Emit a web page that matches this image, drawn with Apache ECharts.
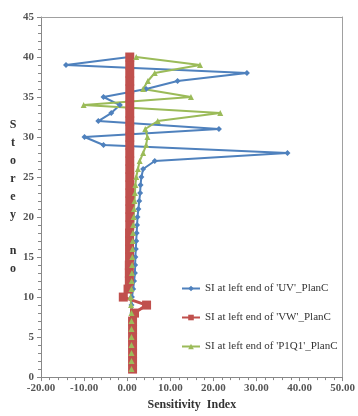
<!DOCTYPE html>
<html>
<head>
<meta charset="utf-8">
<script src="https://cdn.jsdelivr.net/npm/echarts@6/dist/echarts.min.js"></script>
<style>
html,body{margin:0;padding:0;background:#fff;}
#c{width:358px;height:416px;}
</style>
</head>
<body>
<div id="c"></div>
<script>
// Storey numbers 1..40
const storeys = [1,2,3,4,5,6,7,8,9,10,11,12,13,14,15,16,17,18,19,20,21,22,23,24,25,26,27,28,29,30,31,32,33,34,35,36,37,38,39,40];
// SI at left end of 'UV'_PlanC
const siUV = [1.1,1.1,1.1,1.15,1.15,1.2,1.2,1.2,1.0,1.1,1.4,1.6,1.8,1.85,1.9,2.0,2.1,2.2,2.3,2.4,2.6,2.8,3.0,3.1,3.3,3.7,6.4,37.2,-5.5,-9.9,21.3,-6.7,-3.7,-1.7,-5.5,4.4,11.7,27.8,-14.2,0.5];
// SI at left end of 'VW'_PlanC
const siVW = [1.25,1.25,1.25,1.25,1.25,1.25,1.25,1.7,4.5,-0.9,0.2,0.5,0.5,0.5,0.55,0.55,0.55,0.55,0.6,0.6,0.6,0.6,0.6,0.6,0.6,0.6,0.6,0.6,0.6,0.6,0.6,0.6,0.6,0.6,0.6,0.6,0.6,0.6,0.6,0.6];
// SI at left end of 'P1Q1'_PlanC
const siP1Q1 = [1.0,1.0,1.0,1.0,1.0,1.0,1.0,1.0,0.9,0.8,1.0,1.05,1.1,1.15,1.2,1.25,1.3,1.35,1.4,1.5,1.6,1.7,1.8,1.9,2.1,2.5,2.9,3.7,4.4,4.7,4.2,7.1,21.6,-10.1,14.8,3.7,4.8,6.4,16.9,2.1];
const seriesNames = ["SI at left end of 'UV'_PlanC","SI at left end of 'VW'_PlanC","SI at left end of 'P1Q1'_PlanC"];
const xTicks = [-20,-10,0,10,20,30,40,50];
const yTicks = [0,5,10,15,20,25,30,35,40,45];

const pairs = vals => vals.map((v,i)=>[v, storeys[i]]);
const serif = "'Liberation Serif','DejaVu Serif',serif";
const xMin = xTicks[0], xMax = xTicks[xTicks.length-1];
const yMin = yTicks[0], yMax = yTicks[yTicks.length-1];
const frameAxis = {show:true, axisLine:{show:true,onZero:false,lineStyle:{color:'#a0a0a0',width:1}},
  axisTick:{show:false}, axisLabel:{show:false}, splitLine:{show:false}};
const chart = echarts.init(document.getElementById('c'));
chart.setOption({
  animation:false,
  backgroundColor:'#fff',
  grid:{left:41,right:11,top:17,bottom:34},
  legend:{
    orient:'vertical', left:176, top:278, itemGap:18, itemWidth:18, itemHeight:7,
    textStyle:{fontFamily:serif,fontSize:11,color:'#333'},
    data:seriesNames
  },
  xAxis:[{
    type:'value', min:xMin, max:xMax, interval:10,
    name:'Sensitivity  Index', nameLocation:'middle', nameGap:19,
    nameTextStyle:{fontFamily:serif,fontSize:12,fontWeight:'bold',color:'#333'},
    axisLine:{show:true,onZero:false,lineStyle:{color:'#888',width:1}},
    axisTick:{show:true,length:4,lineStyle:{color:'#888'}},
    minorTick:{show:true,splitNumber:5,length:3,lineStyle:{color:'#888'}},
    splitLine:{show:false},
    axisLabel:{fontFamily:serif,fontSize:11,fontWeight:'bold',color:'#555',margin:6,formatter:v=>v.toFixed(2)}
  },
  Object.assign({type:'value',position:'top',min:xMin,max:xMax,interval:10}, frameAxis)],
  yAxis:[{
    type:'value', min:yMin, max:yMax, interval:5,
    name:'S\nt\no\nr\ne\ny\n\nn\no', nameLocation:'middle', nameRotate:0, nameGap:28,
    nameTextStyle:{fontFamily:serif,fontSize:12,fontWeight:'bold',color:'#333',lineHeight:18,align:'center'},
    axisLine:{show:true,onZero:false,lineStyle:{color:'#888',width:1}},
    axisTick:{show:true,length:4,lineStyle:{color:'#888'}},
    minorTick:{show:true,splitNumber:5,length:3,lineStyle:{color:'#888'}},
    splitLine:{show:false},
    axisLabel:{fontFamily:serif,fontSize:11,fontWeight:'bold',color:'#555',margin:7}
  },
  Object.assign({type:'value',position:'right',min:yMin,max:yMax,interval:5}, frameAxis)],
  series:[
    {name:seriesNames[0],type:'line',data:pairs(siUV),symbol:'diamond',symbolSize:6,
     lineStyle:{color:'#4F81BD',width:2},itemStyle:{color:'#4F81BD'}},
    {name:seriesNames[1],type:'line',data:pairs(siVW),symbol:'rect',symbolSize:9,
     lineStyle:{color:'#C0504D',width:3},itemStyle:{color:'#C0504D'}},
    {name:seriesNames[2],type:'line',data:pairs(siP1Q1),symbol:'triangle',symbolSize:6,
     lineStyle:{color:'#9BBB59',width:2},itemStyle:{color:'#9BBB59'}}
  ]
});
</script>
</body>
</html>
